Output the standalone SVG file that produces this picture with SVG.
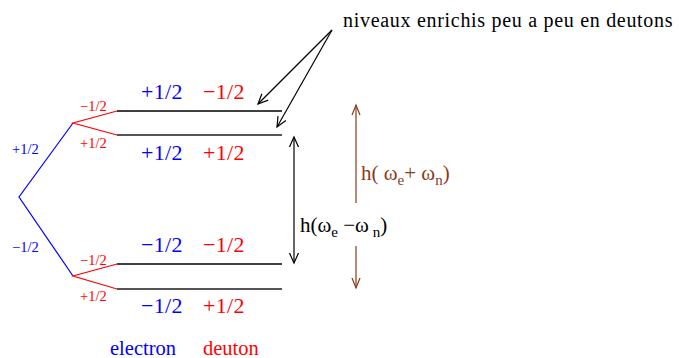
<svg xmlns="http://www.w3.org/2000/svg" width="679" height="358" viewBox="0 0 679 358" font-family="'Liberation Serif', 'DejaVu Serif', serif">
<style>
.b{fill:#0000ff}.r{fill:#ff0000}.k{fill:#000}.br{fill:#8b3a1a}
.sm{font-size:14.5px}.lg{font-size:22px;letter-spacing:0.3px}.md{font-size:21px}
.bl{stroke:#0000ff;fill:none;stroke-width:1.2}
.rl{stroke:#ff0000;fill:none;stroke-width:1.2}
.lv{stroke:#000;stroke-width:1.5}
.lv2{stroke:#555;stroke-width:2}
.ar{stroke:#000;stroke-width:1.2;fill:none}
.arb{stroke:#8b3a1a;stroke-width:1.2;fill:none}
</style>
<defs>
<marker id="mk" markerWidth="14" markerHeight="14" refX="0" refY="0" viewBox="-12 -6 14 12" orient="auto-start-reverse" markerUnits="userSpaceOnUse">
<path d="M-10,-4.5 L0,0 L-10,4.5" fill="none" stroke="#000" stroke-width="1.2"/>
</marker>
<marker id="mkb" markerWidth="14" markerHeight="14" refX="0" refY="0" viewBox="-12 -6 14 12" orient="auto-start-reverse" markerUnits="userSpaceOnUse">
<path d="M-10,-4 L0,0 L-10,4" fill="none" stroke="#8b3a1a" stroke-width="1.2"/>
</marker>
</defs>
<g id="electron-split">
<path class="bl" d="M73,123 L19,197 L73,276"/>
<text class="b sm" x="12" y="154">+1/2</text>
<text class="b sm" x="12" y="252">−1/2</text>
</g>
<g id="deuton-split-upper">
<path class="rl" d="M117,111 L73,123 L117,135"/>
<text class="r sm" x="80" y="111">−1/2</text>
<text class="r sm" x="80" y="148">+1/2</text>
</g>
<g id="deuton-split-lower">
<path class="rl" d="M117,264 L73,276 L117,289"/>
<text class="r sm" x="80" y="265">−1/2</text>
<text class="r sm" x="80" y="301">+1/2</text>
</g>
<g id="level1">
<line class="lv" x1="117" y1="111" x2="282" y2="111"/>
<text class="b lg" x="141" y="99">+1/2</text>
<text class="r lg" x="203" y="99">−1/2</text>
</g>
<g id="level2">
<line class="lv2" x1="117" y1="135" x2="282" y2="135"/>
<text class="b lg" x="141" y="160">+1/2</text>
<text class="r lg" x="203" y="160">+1/2</text>
</g>
<g id="level3">
<line class="lv" x1="117" y1="264" x2="282" y2="264"/>
<text class="b lg" x="141" y="252">−1/2</text>
<text class="r lg" x="203" y="252">−1/2</text>
</g>
<g id="level4">
<line class="lv2" x1="117" y1="289" x2="282" y2="289"/>
<text class="b lg" x="141" y="313">−1/2</text>
<text class="r lg" x="203" y="313">+1/2</text>
</g>
<g id="note">
<text class="k" x="343" y="27" font-size="20" letter-spacing="0.7">niveaux enrichis peu a peu en deutons</text>
</g>
<g id="connectors">
<line class="ar" x1="332" y1="30" x2="258" y2="104" marker-end="url(#mk)"/>
<line class="ar" x1="332" y1="30" x2="277" y2="127" marker-end="url(#mk)"/>
<line class="ar" x1="294" y1="137" x2="294" y2="263" marker-start="url(#mk)" marker-end="url(#mk)"/>
<line class="arb" x1="356" y1="203" x2="356" y2="105" marker-end="url(#mkb)"/>
<line class="arb" x1="356" y1="246" x2="356" y2="288" marker-end="url(#mkb)"/>
</g>
<g id="label-diff">
<text class="k md" x="300" y="232">h(ω<tspan font-size="15" dy="5">e</tspan><tspan dy="-5"> −ω</tspan><tspan font-size="15" dy="5"> n</tspan><tspan dy="-5">)</tspan></text>
</g>
<g id="label-sum">
<text class="br md" x="361" y="180">h( ω<tspan font-size="15" dy="5">e</tspan><tspan dy="-5">+ ω</tspan><tspan font-size="15" dy="5">n</tspan><tspan dy="-5">)</tspan></text>
</g>
<g id="legend">
<text class="b" x="110" y="355" font-size="20.5">electron</text>
<text class="r" x="203" y="355" font-size="20.5">deuton</text>
</g>
</svg>
